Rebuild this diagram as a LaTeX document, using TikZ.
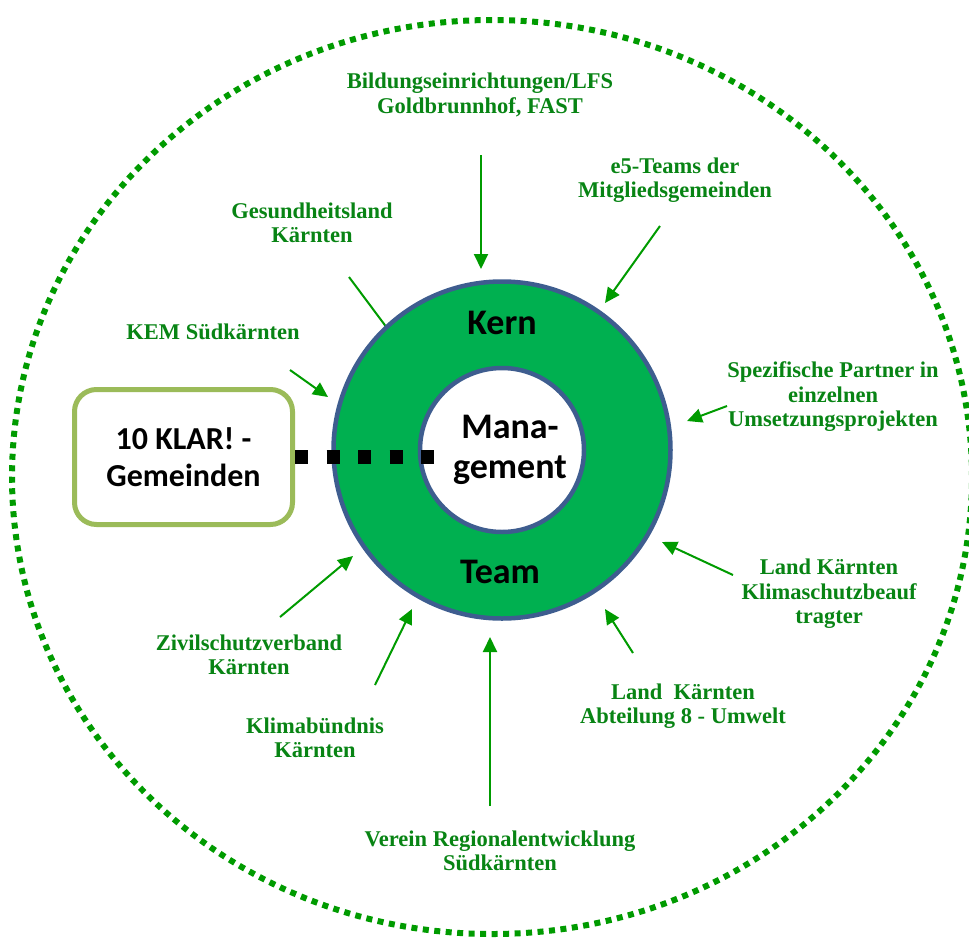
\documentclass[tikz,border=0pt]{standalone}
\usepackage{fontspec}
\usetikzlibrary{arrows.meta}
\newfontfamily\partnerfont{Liberation Serif}
\newfontfamily\corefont{Carlito}
\definecolor{labelgreen}{RGB}{8,132,20}
\definecolor{arrowgreen}{RGB}{0,155,0}
\definecolor{ringgreen}{RGB}{0,176,80}
\definecolor{ringblue}{RGB}{62,93,143}
\definecolor{boxgreen}{RGB}{155,187,89}
\begin{document}
\begin{tikzpicture}[x=1pt,y=-1pt,
  partner/.style={font=\partnerfont\bfseries\fontsize{22.5}{24.5}\selectfont,
    text=labelgreen, align=center, inner sep=0pt},
  feed/.style={draw=arrowgreen, line width=2pt,
    -{Triangle[length=15pt,width=14pt]}},
  coretext/.style={font=\corefont\bfseries\fontsize{36}{40}\selectfont,
    align=center, inner sep=0pt},
  boundary/.style={draw=arrowgreen, line width=6pt, dash pattern=on 6pt off 5.5pt}]
\useasboundingbox (0,0) rectangle (969,938);
\clip (0,0) rectangle (969,938);

% outer boundary of the network
\draw[boundary] (492,477) ellipse [x radius=480pt, y radius=457pt];

% partner labels
\node[partner] (bild) at (480,95) {Bildungseinrichtungen/LFS\\Goldbrunnhof, FAST};
\node[partner] (e5) at (675,180) {e5-Teams der\\Mitgliedsgemeinden};
\node[partner] (gesund) at (312,223) {Gesundheitsland\\Kärnten};
\node[partner] (kem) at (213,332) {KEM Südkärnten};
\node[partner] (spez) at (833,397) {Spezifische Partner in\\einzelnen\\Umsetzungsprojekten};
\node[partner] (klima) at (829,594) {Land Kärnten\\Klimaschutzbeauf\\tragter};
\node[partner] (abt) at (683,706) {Land\ \ Kärnten\\Abteilung 8 - Umwelt};
\node[partner] (verein) at (500,851) {Verein Regionalentwicklung\\Südkärnten};
\node[partner] (buendnis) at (315,738) {Klimabündnis\\Kärnten};
\node[partner] (zivil) at (249,655) {Zivilschutzverband\\Kärnten};

% arrow end points
\coordinate (bildT) at (481,155);   \coordinate (bildH) at (481,269);
\coordinate (e5T) at (660,226);     \coordinate (e5H) at (605,303);
\coordinate (gesT) at (349,277);    \coordinate (gesH) at (396,340);
\coordinate (kemT) at (290,370);    \coordinate (kemH) at (328,397);
\coordinate (spezT) at (727,406);   \coordinate (spezH) at (687,421);
\coordinate (klimaT) at (733,575);  \coordinate (klimaH) at (662,542);
\coordinate (abtT) at (633,653);    \coordinate (abtH) at (605,609);
\coordinate (vereinT) at (490,806); \coordinate (vereinH) at (490,637);
\coordinate (buendT) at (375,685);  \coordinate (buendH) at (412,609);
\coordinate (zivilT) at (280,617);  \coordinate (zivilH) at (353,556);

\foreach \p in {bild,e5,ges,kem,spez,klima,abt,verein,buend,zivil}
  \draw[feed] (\p T) -- (\p H);

% core team ring
\node[circle, draw=ringblue, line width=4.5pt, fill=ringgreen,
  minimum size=337pt, inner sep=0pt] (ring) at (502,450) {};
\node[circle, draw=ringblue, line width=4.5pt, fill=white,
  minimum size=164pt, inner sep=0pt] (core) at (502,450) {};
\node[coretext] (kern) at (502,323) {Kern};
\node[coretext] (mgmt) at (510,450) {Mana-\\gement};
\node[coretext] (team) at (500,572) {Team};

% member municipalities
\node[draw=boxgreen, line width=5pt, rounded corners=22pt, fill=white,
  minimum width=218pt, minimum height=135pt, inner sep=0pt, align=center,
  font=\corefont\bfseries\fontsize{32}{37}\selectfont] (klar) at (183.5,457)
  {10 KLAR! -\\Gemeinden};
\coordinate (linkend) at ([xshift=16pt]klar.east -| core.west);
\draw[line width=14pt, dash pattern=on 13pt off 18.5pt]
  (klar.east) -- (linkend);
\end{tikzpicture}
\end{document}
